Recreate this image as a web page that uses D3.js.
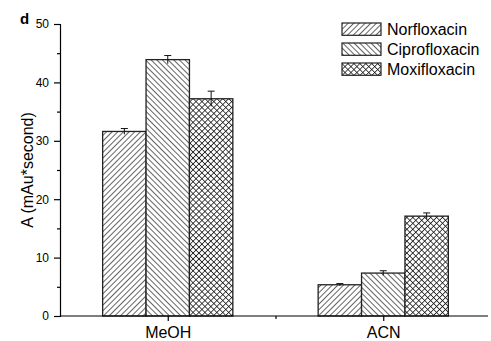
<!DOCTYPE html>
<html>
<head>
<meta charset="utf-8">
<script src="https://cdn.jsdelivr.net/npm/d3@7"></script>
<style>
  body { margin: 0; background: #fff; }
  svg { font-family: "Liberation Sans", Arial, sans-serif; }
</style>
</head>
<body>
<div id="chart"></div>
<script>
/* Grouped bar chart with hatched fills and error bars */

var categories = ['MeOH', 'ACN'];
var series = ['Norfloxacin', 'Ciprofloxacin', 'Moxifloxacin'];
var norfloxacin = [31.6, 5.35];
var ciprofloxacin = [43.9, 7.35];
var moxifloxacin = [37.2, 17.1];
var norfloxacinErr = [0.5, 0.2];
var ciprofloxacinErr = [0.7, 0.4];
var moxifloxacinErr = [1.3, 0.55];
var yTicks = [0, 10, 20, 30, 40, 50];
var yMinorTicks = [5, 15, 25, 35, 45];

var values = [norfloxacin, ciprofloxacin, moxifloxacin];
var errors = [norfloxacinErr, ciprofloxacinErr, moxifloxacinErr];

var W = 491, H = 341;
var margin = {top: 24, right: 0, bottom: 25, left: 60};
var FONT = '"Liberation Sans", Arial, sans-serif';

var svg = d3.select('#chart').append('svg')
  .attr('width', W)
  .attr('height', H);

/* ---- patterns ---- */
var defs = svg.append('defs');

function hatch(id, angle) {
  var p = defs.append('pattern')
    .attr('id', id)
    .attr('patternUnits', 'userSpaceOnUse')
    .attr('width', 4)
    .attr('height', 4)
    .attr('patternTransform', 'rotate(' + angle + ')');
  p.append('rect').attr('width', 4).attr('height', 4).attr('fill', '#fff');
  p.append('line')
    .attr('x1', 0).attr('y1', 0).attr('x2', 0).attr('y2', 4)
    .attr('stroke', '#111').attr('stroke-width', 1.3);
}
hatch('pat0', 45);
hatch('pat1', -45);

var cp = defs.append('pattern')
  .attr('id', 'pat2')
  .attr('patternUnits', 'userSpaceOnUse')
  .attr('width', 4.2)
  .attr('height', 4.2)
  .attr('patternTransform', 'rotate(45)');
cp.append('rect').attr('width', 4.2).attr('height', 4.2).attr('fill', '#fff');
cp.append('line').attr('x1', 0).attr('y1', 0).attr('x2', 0).attr('y2', 4.2)
  .attr('stroke', '#111').attr('stroke-width', 1.5);
cp.append('line').attr('x1', 0).attr('y1', 0).attr('x2', 4.2).attr('y2', 0)
  .attr('stroke', '#111').attr('stroke-width', 1.5);

/* ---- scales ---- */
var x = d3.scaleLinear()
  .domain([0.5, categories.length + 0.5])
  .range([margin.left, W - margin.right]);

var y = d3.scaleLinear()
  .domain([0, 50])
  .range([H - margin.bottom, margin.top]);

var barW = 43.4;

/* ---- bars ---- */
var g = svg.append('g');
series.forEach(function(s, si) {
  var rows = categories.map(function(c, ci) {
    return {ci: ci, v: values[si][ci], e: errors[si][ci]};
  });
  var offset = (si - 1) * barW;

  g.selectAll('rect.s' + si).data(rows).enter().append('rect')
    .attr('x', function(d) { return x(d.ci + 1) + offset - barW / 2; })
    .attr('y', function(d) { return y(d.v); })
    .attr('width', barW)
    .attr('height', function(d) { return y(0) - y(d.v); })
    .attr('fill', 'url(#pat' + si + ')')
    .attr('stroke', '#222')
    .attr('stroke-width', 1.3);

  var eb = g.selectAll('g.e' + si).data(rows).enter().append('g')
    .attr('stroke', '#111')
    .attr('stroke-width', 1);
  eb.append('line')
    .attr('x1', function(d) { return x(d.ci + 1) + offset; })
    .attr('x2', function(d) { return x(d.ci + 1) + offset; })
    .attr('y1', function(d) { return y(d.v - d.e); })
    .attr('y2', function(d) { return y(d.v + d.e); });
  eb.append('line')
    .attr('x1', function(d) { return x(d.ci + 1) + offset - 3.5; })
    .attr('x2', function(d) { return x(d.ci + 1) + offset + 3.5; })
    .attr('y1', function(d) { return y(d.v + d.e); })
    .attr('y2', function(d) { return y(d.v + d.e); });
});

/* ---- axes ---- */
var yAxis = svg.append('g')
  .attr('transform', 'translate(' + margin.left + ',0)')
  .call(d3.axisLeft(y).tickValues(yTicks).tickSize(6).tickPadding(5).tickFormat(d3.format('d')));
yAxis.select('.domain').attr('stroke', '#000').attr('stroke-width', 1.2);
yAxis.selectAll('line').attr('stroke', '#000').attr('stroke-width', 1.2);
yAxis.selectAll('text').attr('font-size', 12).attr('font-family', FONT);

svg.append('g')
  .attr('transform', 'translate(' + margin.left + ',0)')
  .call(d3.axisLeft(y).tickValues(yMinorTicks).tickSize(3).tickFormat(''))
  .call(function(a) { a.select('.domain').remove(); })
  .selectAll('line').attr('stroke', '#000').attr('stroke-width', 1.2);

var xAxis = svg.append('g')
  .attr('transform', 'translate(0,' + y(0) + ')')
  .call(d3.axisBottom(x).tickValues([1, 2]).tickSize(5).tickPadding(6)
    .tickFormat(function(d) { return categories[d - 1]; }));
xAxis.select('.domain').attr('stroke', '#000').attr('stroke-width', 1.2).attr('d', 'M' + margin.left + ',0H' + (W - 3));
xAxis.selectAll('line').attr('stroke', '#000').attr('stroke-width', 1.2);
xAxis.selectAll('text').attr('font-size', 16).attr('font-family', FONT);

svg.append('g')
  .attr('transform', 'translate(0,' + y(0) + ')')
  .call(d3.axisBottom(x).tickValues([1.5]).tickSize(3).tickFormat(''))
  .call(function(a) { a.select('.domain').remove(); })
  .selectAll('line').attr('stroke', '#000').attr('stroke-width', 1.2);

/* ---- labels ---- */
svg.append('text')
  .attr('transform', 'translate(33,' + ((y(0) + y(50)) / 2) + ') rotate(-90)')
  .attr('text-anchor', 'middle')
  .attr('font-size', 16)
  .text('A (mAu*second)');

svg.append('text')
  .attr('x', 20).attr('y', 24)
  .attr('font-size', 15)
  .attr('font-weight', 'bold')
  .text('d');

/* ---- legend ---- */
var legend = svg.append('g').attr('transform', 'translate(342,23)');
series.forEach(function(s, i) {
  var row = legend.append('g').attr('transform', 'translate(0,' + (i * 20) + ')');
  row.append('rect')
    .attr('width', 39).attr('height', 12.3)
    .attr('fill', 'url(#pat' + i + ')')
    .attr('stroke', '#222').attr('stroke-width', 1.2);
  row.append('text')
    .attr('x', 45).attr('y', 12.3)
    .attr('font-size', 16)
    .text(s);
});
</script>
</body>
</html>
